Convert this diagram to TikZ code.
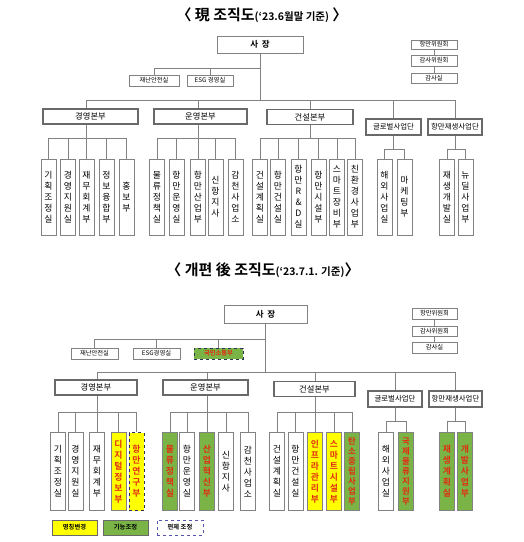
\documentclass[tikz,border=0pt]{standalone}
\usepackage{fontspec}
\setmainfont{Noto Sans CJK KR}[BoldFont={Noto Sans CJK KR Bold}]

\definecolor{linegray}{RGB}{130,130,130}
\definecolor{boxgray}{RGB}{105,105,105}
\definecolor{renamed}{RGB}{255,255,0}
\definecolor{adjusted}{RGB}{122,180,70}
\definecolor{redtext}{RGB}{225,45,20}
\definecolor{dashblue}{RGB}{85,85,175}
\definecolor{navy}{RGB}{40,50,85}

\tikzset{
  conn/.style={draw=linegray, line width=0.8pt},
  ceobox/.style={draw=linegray, line width=0.9pt, fill=white, minimum width=86, minimum height=17, inner sep=0, font=\bfseries\fontsize{8.5}{8.5}\selectfont},
  sidebox/.style={draw=linegray, line width=0.7pt, fill=white, minimum width=46, minimum height=10, inner sep=0, font=\fontsize{6.3}{6.3}\selectfont},
  hqbox/.style={draw=boxgray, line width=1.6pt, fill=white, minimum height=15, inner sep=0, font=\fontsize{8.3}{8.3}\selectfont},
  teambox/.style={hqbox, minimum height=16, font=\fontsize{7.4}{7.4}\selectfont},
  deptbox/.style={draw=linegray, line width=0.8pt, fill=white, minimum width=15, minimum height=76, inner sep=0, align=center, font=\fontsize{8.8}{11}\selectfont},
  colbox/.style={deptbox, text=redtext, font=\bfseries\fontsize{8.8}{11}\selectfont},
  tightcol/.style={font=\bfseries\fontsize{8.4}{10}\selectfont},
  legbox/.style={draw=linegray, line width=0.7pt, minimum width=45, minimum height=15, inner sep=0, font=\bfseries\fontsize{6.3}{6.3}\selectfont}
}

\begin{document}
\begin{tikzpicture}[x=1pt, y=-1pt]
\useasboundingbox (0,0) rectangle (524,542);

%%%%%%%%%% current chart %%%%%%%%%%
\node[font=\bfseries] (title1) at (262,15) {{\fontsize{15}{15}\selectfont 〈 現 조직도}{\fontsize{10.5}{10.5}\selectfont(‘23.6월말 기준)}{\fontsize{15}{15}\selectfont\ 〉}};

\node[ceobox] (ceo1) at (260,44.5) {사\ \ 장};

% committees on the right
\node[sidebox, minimum height=9] (com1a) at (434,44.5) {항만위원회};
\node[sidebox, minimum height=11] (com1b) at (434,60.5) {감사위원회};
\node[sidebox] (com1c) at (434,78) {감사실};
\draw[conn] (com1a.south) -- (com1b.north);
\draw[conn] (com1b.south) -- (com1c.north);

% staff offices
\node[sidebox, minimum width=50, minimum height=11] (safe1) at (154,80.5) {재난안전실};
\node[sidebox, minimum height=11] (esg1) at (210,80.5) {ESG 경영실};

% headquarters
\node[hqbox, minimum width=95] (hq1a) at (90.5,116.5) {경영본부};
\node[hqbox, minimum width=93] (hq1b) at (200.5,116.5) {운영본부};
\node[hqbox, minimum width=86] (hq1c) at (310,117) {건설본부};
\node[teambox, minimum width=55] (hq1d) at (393.5,127) {글로벌사업단};
\node[teambox, minimum width=54] (hq1e) at (455,127) {항만재생사업단};

% departments
\foreach \n/\x/\t in {a1/48.5/{기\\획\\조\\정\\실}, a2/68/{경\\영\\지\\원\\실}, a3/86.5/{재\\무\\회\\계\\부},
    a4/106.5/{정\\보\\융\\합\\부}, a5/126.5/{홍\\보\\부},
    b1/157/{물\\류\\정\\책\\실}, b2/176.5/{항\\만\\운\\영\\실}, b3/198/{항\\만\\산\\업\\부},
    b4/215.5/{신\\항\\지\\사}, b5/235.5/{감\\천\\사\\업\\소},
    c1/260/{건\\설\\계\\획\\실}, c2/278/{항\\만\\건\\설\\실}, c3/298.5/{항\\만\\R\\\&\\D\\실},
    c4/318.5/{항\\만\\시\\설\\부}, c5/337/{스\\마\\트\\장\\비\\부}, c6/355/{친\\환\\경\\사\\업\\부},
    d1/384.5/{해\\외\\사\\업\\실}, d2/404.5/{마\\케\\팅\\부},
    e1/447/{재\\생\\개\\발\\실}, e2/465.5/{뉴\\딜\\사\\업\\부}}
  \node[deptbox] (\n) at (\x,197) {\t};

% connectors
\coordinate (bus1) at (0,68);
\coordinate (main1) at (0,100);
\coordinate (sub1) at (0,138);
\coordinate (sub1g) at (0,149);
\draw[conn] (ceo1.south) -- (ceo1.south |- main1);
\draw[conn] (safe1.north) |- (bus1 -| ceo1.south);
\draw[conn] (esg1.north) -- (esg1.north |- bus1);
\draw[conn] (hq1a.north -| a3) |- (main1 -| hq1e.north) -- (hq1e.north);
\draw[conn] (hq1b.north -| b3) -- (main1 -| b3);
\draw[conn] (hq1c.north) -- (hq1c.north |- main1);
\draw[conn] (hq1d.north) -- (hq1d.north |- main1);
\draw[conn] (hq1a.south -| a3) -- (a3.north);
\draw[conn] (hq1b.south -| b3) -- (b3.north);
\draw[conn] (hq1c.south) -- (hq1c.south |- sub1);
\draw[conn] (hq1d.south) -- (hq1d.south |- sub1g);
\draw[conn] (hq1e.south) -- (hq1e.south |- sub1g);
\draw[conn] (a1.north) |- (sub1 -| a5.north) -- (a5.north);
\draw[conn] (b1.north) |- (sub1 -| b5.north) -- (b5.north);
\draw[conn] (c1.north) |- (sub1 -| c6.north) -- (c6.north);
\draw[conn] (d1.north) |- (sub1g -| d2.north) -- (d2.north);
\draw[conn] (e1.north) |- (sub1g -| e2.north) -- (e2.north);
\foreach \n in {a2,a4,b2,b4,c2,c3,c4,c5}
  \draw[conn] (\n.north) -- (\n.north |- sub1);

%%%%%%%%%% reorganised chart %%%%%%%%%%
\node[font=\bfseries] (title2) at (263,270) {{\fontsize{15}{15}\selectfont 〈 개편 後 조직도}{\fontsize{10.5}{10.5}\selectfont(‘23.7.1. 기준)}{\fontsize{15}{15}\selectfont 〉}};

\node[ceobox, minimum width=83, minimum height=18] (ceo2) at (265.5,314) {사\ \ 장};

\node[sidebox, minimum width=45, minimum height=11] (com2a) at (434.5,313.5) {항만위원회};
\node[sidebox, minimum width=45] (com2b) at (434.5,331) {감사위원회};
\node[sidebox, minimum width=45, minimum height=11] (com2c) at (434.5,347.5) {감사실};
\draw[conn] (com2a.south) -- (com2b.north);
\draw[conn] (com2b.south) -- (com2c.north);

\node[sidebox, minimum width=47, minimum height=11] (safe2) at (94.5,353.5) {재난안전실};
\node[sidebox, minimum width=47, minimum height=11] (esg2) at (156.5,353.5) {ESG경영실};
\node[sidebox, minimum width=49, minimum height=11, fill=adjusted, draw=navy, dashed, line width=1pt, text=redtext, font=\bfseries\fontsize{6.3}{6.3}\selectfont] (comm2) at (218.5,353.5) {국민소통부};

\node[hqbox, minimum width=82] (hq2a) at (96,387.5) {경영본부};
\node[hqbox, minimum width=85] (hq2b) at (205.5,387.5) {운영본부};
\node[hqbox, minimum width=81] (hq2c) at (314.5,389) {건설본부};
\node[teambox, minimum width=54] (hq2d) at (395,399) {글로벌사업단};
\node[teambox, minimum width=53] (hq2e) at (455.5,399) {항만재생사업단};

% plain departments
\foreach \n/\x/\t in {p1/58/{기\\획\\조\\정\\실}, p2/75.5/{경\\영\\지\\원\\실}, p3/97/{재\\무\\회\\계\\부},
    q2/187/{항\\만\\운\\영\\실}, q4/226/{신\\항\\지\\사}, q5/248/{감\\천\\사\\업\\소},
    r1/277/{건\\설\\계\\획\\실}, r2/295.5/{항\\만\\건\\설\\실}, s1/386/{해\\외\\사\\업\\실}}
  \node[deptbox, minimum height=78] (\n) at (\x,471.5) {\t};

% renamed / adjusted departments
\node[colbox, minimum height=78, fill=renamed] (p4) at (118.5,471.5) {디\\지\\털\\정\\보\\부};
\node[colbox, minimum height=78, fill=renamed, draw=navy, dashed] (p5) at (136.5,471.5) {항\\만\\연\\구\\부};
\node[colbox, minimum height=78, fill=adjusted] (q1) at (170,471.5) {물\\류\\정\\책\\실};
\node[colbox, minimum height=78, fill=adjusted] (q3) at (207,471.5) {산\\업\\혁\\신\\부};
\node[colbox, minimum height=78, fill=renamed] (r3) at (315,471.5) {인\\프\\라\\관\\리\\부};
\node[colbox, minimum height=78, fill=renamed] (r4) at (334,471.5) {스\\마\\트\\시\\설\\부};
\node[colbox, tightcol, minimum height=78, fill=adjusted] (r5) at (352,471.5) {탄\\소\\중\\립\\사\\업\\부};
\node[colbox, tightcol, minimum height=78, fill=adjusted] (s2) at (406,471.5) {국\\제\\물\\류\\지\\원\\부};
\node[colbox, minimum height=78, fill=adjusted] (t1) at (447,471.5) {재\\생\\계\\획\\실};
\node[colbox, minimum height=78, fill=adjusted] (t2) at (465,471.5) {개\\발\\사\\업\\부};

% connectors
\coordinate (bus2) at (0,339);
\coordinate (main2) at (0,372);
\coordinate (sub2) at (0,412);
\coordinate (sub2g) at (0,421);
\draw[conn] (ceo2.south) -- (ceo2.south |- main2);
\draw[conn] (safe2.north) |- (bus2 -| ceo2.south);
\draw[conn] (esg2.north) -- (esg2.north |- bus2);
\draw[conn] (comm2.north) -- (comm2.north |- bus2);
\draw[conn] (hq2a.north -| p3) |- (main2 -| hq2e.north) -- (hq2e.north);
\draw[conn] (hq2b.north -| q3) -- (main2 -| q3);
\draw[conn] (hq2c.north -| r3) -- (main2 -| r3);
\draw[conn] (hq2d.north) -- (hq2d.north |- main2);
\draw[conn] (hq2a.south -| p3) -- (p3.north);
\draw[conn] (hq2b.south -| q3) -- (q3.north);
\draw[conn] (hq2c.south -| r3) -- (r3.north);
\draw[conn] (hq2d.south) -- (hq2d.south |- sub2g);
\draw[conn] (hq2e.south) -- (hq2e.south |- sub2g);
\draw[conn] (p1.north) |- (sub2 -| p5.north) -- (p5.north);
\draw[conn] (q1.north) |- (sub2 -| q5.north) -- (q5.north);
\draw[conn] (r1.north) |- (sub2 -| r5.north) -- (r5.north);
\draw[conn] (s1.north) |- (sub2g -| s2.north) -- (s2.north);
\draw[conn] (t1.north) |- (sub2g -| t2.north) -- (t2.north);
\foreach \n in {p2,p4,q2,q4,r2,r4}
  \draw[conn] (\n.north) -- (\n.north |- sub2);

% legend
\node[legbox, fill=renamed, draw=boxgray] (leg1) at (74.5,527.5) {명칭변경};
\node[legbox, fill=adjusted, draw=boxgray] (leg2) at (125.5,527.5) {기능조정};
\node[legbox, minimum width=46, draw=dashblue, dashed, fill=white] (leg3) at (180,527.5) {편제 조정};
\end{tikzpicture}
\end{document}
